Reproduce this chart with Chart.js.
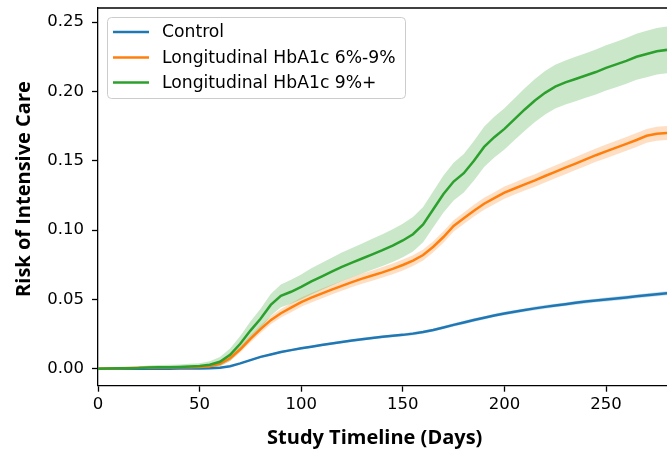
<!DOCTYPE html>
<html><head><meta charset="utf-8">
<script src="https://cdn.jsdelivr.net/npm/chart.js@4.4.1/dist/chart.umd.min.js"></script>
<style>html,body{margin:0;padding:0;background:#fff;overflow:hidden}canvas{display:block}</style>
</head><body>
<canvas id="c" width="667" height="450"></canvas>
<script>
const days = [0,5,10,15,20,25,30,35,40,45,50,55,60,65,70,75,80,85,90,95,100,105,110,115,120,125,130,135,140,145,150,155,160,165,170,175,180,185,190,195,200,205,210,215,220,225,230,235,240,245,250,255,260,265,270,275,280];

const seriesNames = ["Control", "Longitudinal HbA1c 6%-9%", "Longitudinal HbA1c 9%+"];

const control = [0,0,0,0,0,0,0,0,0.0001,0.0001,0.0002,0.0003,0.0007,0.0018,0.0038,0.0062,
  0.0085,0.0103,0.0120,0.0134,0.0147,0.0159,0.0171,0.0181,
  0.0192,0.0203,0.0213,0.0222,0.0230,0.0237,0.0244,0.0253,
  0.0265,0.0279,0.0297,0.0316,0.0333,0.0351,0.0367,0.0384,
  0.0398,0.0411,0.0423,0.0435,0.0446,0.0456,0.0465,0.0475,
  0.0484,0.0492,0.0499,0.0506,0.0514,0.0522,0.0530,0.0537,0.0544];
const controlCI = [0,0,0,0,0,0,0,0,0.0001,0.0001,0.0001,0.0002,0.0003,0.0004,0.0005,0.0006,
  0.0007,0.0007,0.0008,0.0008,0.0008,0.0009,0.0009,0.0009,
  0.0009,0.0010,0.0010,0.0010,0.0010,0.0010,0.0010,0.0011,
  0.0011,0.0011,0.0011,0.0011,0.0012,0.0012,0.0012,0.0012,
  0.0012,0.0012,0.0012,0.0013,0.0013,0.0013,0.0013,0.0013,
  0.0013,0.0013,0.0014,0.0014,0.0014,0.0014,0.0014,0.0014,0.0014];

const hba1cMid = [0,0.0002,0.0004,0.0005,0.0006,0.0007,0.0008,0.0009,
  0.0010,0.0011,0.0013,0.0017,0.0035,0.0075,0.0140,0.0215,
  0.0285,0.0350,0.0400,0.0440,0.0480,0.0512,0.0542,0.0570,
  0.0598,0.0625,0.0650,0.0672,0.0695,0.0720,0.0748,0.0780,
  0.0820,0.0880,0.0950,0.1030,0.1085,0.1140,0.1190,0.1230,
  0.1270,0.1300,0.1330,0.1358,0.1390,0.1420,0.1450,0.1480,
  0.1510,0.1540,0.1568,0.1595,0.1622,0.1650,0.1680,0.1695,0.1700];
const hba1cMidCI = [0.0003,0.0004,0.0005,0.0006,0.0007,0.0008,0.0009,0.0009,
  0.0010,0.0010,0.0011,0.0012,0.0015,0.0019,0.0023,0.0026,
  0.0028,0.0030,0.0031,0.0032,0.0033,0.0034,0.0035,0.0035,
  0.0036,0.0036,0.0037,0.0037,0.0038,0.0038,0.0039,0.0039,
  0.0040,0.0040,0.0041,0.0041,0.0042,0.0042,0.0043,0.0043,
  0.0044,0.0044,0.0045,0.0045,0.0046,0.0046,0.0047,0.0047,
  0.0048,0.0048,0.0049,0.0049,0.0050,0.0050,0.0050,0.0051,0.0051];

const hba1cHigh = [0,0.0002,0.0003,0.0004,0.0005,0.0008,0.0010,0.0011,
  0.0013,0.0016,0.0020,0.0028,0.0050,0.0100,0.0180,0.0275,
  0.0360,0.0460,0.0525,0.0555,0.0590,0.0630,0.0665,0.0700,
  0.0735,0.0765,0.0795,0.0825,0.0855,0.0888,0.0925,0.0970,
  0.1040,0.1150,0.1260,0.1350,0.1410,0.1500,0.1600,0.1670,
  0.1730,0.1800,0.1870,0.1935,0.1990,0.2035,0.2065,0.2090,
  0.2115,0.2140,0.2170,0.2195,0.2220,0.2250,0.2270,0.2290,0.2300];
const hba1cHighCI = [0.0004,0.0005,0.0006,0.0008,0.0010,0.0015,0.0016,0.0017,
  0.0018,0.0019,0.0020,0.0025,0.0035,0.0045,0.0055,0.0065,
  0.0072,0.0078,0.0082,0.0086,0.0090,0.0094,0.0097,0.0100,
  0.0103,0.0106,0.0109,0.0112,0.0115,0.0118,0.0121,0.0124,
  0.0127,0.0130,0.0133,0.0136,0.0139,0.0142,0.0145,0.0147,
  0.0149,0.0151,0.0153,0.0155,0.0157,0.0158,0.0159,0.0160,
  0.0161,0.0162,0.0163,0.0164,0.0165,0.0166,0.0167,0.0168,0.0169];

const xTicks = [0,50,100,150,200,250];
const yTicks = [0,0.05,0.10,0.15,0.20,0.25];

const colors = ["#1f77b4", "#ff7f0e", "#2ca02c"];
const bandColors = ["rgba(31,119,180,0.25)", "rgba(255,127,14,0.25)", "rgba(44,160,44,0.25)"];

const values = [control, hba1cMid, hba1cHigh];
const cis = [controlCI, hba1cMidCI, hba1cHighCI];

function pts(arr) { return days.map((d, i) => ({x: d, y: arr[i]})); }

const datasets = [];
[2,1,0].forEach(s => {
  datasets.push({label: seriesNames[s], data: pts(values[s]), borderColor: colors[s],
    borderWidth: 2.5, pointRadius: 0, fill: false, tension: 0});
});
[2,1,0].forEach(s => {
  const lo = values[s].map((v, i) => Math.max(0, v - cis[s][i]));
  const hi = values[s].map((v, i) => v + cis[s][i]);
  const loIdx = datasets.length;
  datasets.push({label: seriesNames[s] + " lower", data: pts(lo), borderWidth: 0,
    pointRadius: 0, fill: false, borderColor: "rgba(0,0,0,0)"});
  datasets.push({label: seriesNames[s] + " upper", data: pts(hi), borderWidth: 0,
    pointRadius: 0, fill: loIdx, borderColor: "rgba(0,0,0,0)", backgroundColor: bandColors[s]});
});

const framePlugin = {
  id: 'frame',
  afterDraw(chart) {
    const {ctx, chartArea: a} = chart;
    ctx.save();
    ctx.strokeStyle = '#000';
    ctx.lineWidth = 1.3;
    ctx.beginPath();
    ctx.moveTo(a.left, a.top);
    ctx.lineTo(a.right, a.top);
    ctx.stroke();
    const bx = 107, by = 17, bw = 298, bh = 81, r = 4;
    ctx.fillStyle = 'rgba(255,255,255,0.8)';
    ctx.strokeStyle = '#cccccc';
    ctx.lineWidth = 1;
    ctx.beginPath();
    ctx.roundRect(bx + 0.5, by + 0.5, bw, bh, r);
    ctx.fill();
    ctx.stroke();
    ctx.font = '17.2px "DejaVu Sans"';
    ctx.textBaseline = 'middle';
    ctx.textAlign = 'left';
    const ys = [32, 57.5, 82.5];
    for (let s = 0; s < 3; s++) {
      ctx.strokeStyle = colors[s];
      ctx.lineWidth = 2.5;
      ctx.beginPath();
      ctx.moveTo(113, ys[s]);
      ctx.lineTo(149, ys[s]);
      ctx.stroke();
      ctx.fillStyle = '#000';
      ctx.fillText(seriesNames[s], 162, ys[s] + 1);
    }
    ctx.restore();
  }
};

new Chart(document.getElementById('c'), {
  type: 'line',
  data: {datasets},
  plugins: [framePlugin],
  options: {
    responsive: false,
    animation: false,
    layout: {padding: {top: 8, right: 0, bottom: 0, left: 0}},
    plugins: {legend: {display: false}, tooltip: {enabled: false}, filler: {propagate: false}},
    scales: {
      x: {
        type: 'linear', min: 0, max: 280,
        afterBuildTicks: sc => { sc.ticks = xTicks.map(v => ({value: v})); },
        afterFit: sc => { sc.height = 64.3; sc.paddingLeft = 0; sc.paddingRight = 0; },
        grid: {drawOnChartArea: false, tickLength: 6, color: '#000', tickWidth: 1.3},
        border: {display: true, color: '#000', width: 1.3},
        ticks: {color: '#000', padding: 3, maxRotation: 0, autoSkip: false,
          font: {family: 'DejaVu Sans', size: 16.5}, callback: v => String(v)},
        title: {display: true, text: 'Study Timeline (Days)   ', color: '#000',
          font: {family: 'Open Sans', size: 20, weight: 'bold'}, padding: {top: 11, bottom: 0}}
      },
      y: {
        type: 'linear', min: -0.01227, max: 0.2602,
        afterBuildTicks: sc => { sc.ticks = yTicks.map(v => ({value: v})); },
        afterFit: sc => { sc.width = 98; sc.paddingTop = 0; sc.paddingBottom = 0; },
        grid: {drawOnChartArea: false, tickLength: 6, color: '#000', tickWidth: 1.3},
        border: {display: true, color: '#000', width: 1.3},
        ticks: {color: '#000', padding: 8, autoSkip: false,
          font: {family: 'DejaVu Sans', size: 16.5}, callback: v => v.toFixed(2)},
        title: {display: true, text: '   Risk of Intensive Care', color: '#000',
          font: {family: 'Open Sans', size: 20, weight: 'bold'}, padding: {top: 12, bottom: 11}}
      }
    }
  }
});
</script>
</body></html>
